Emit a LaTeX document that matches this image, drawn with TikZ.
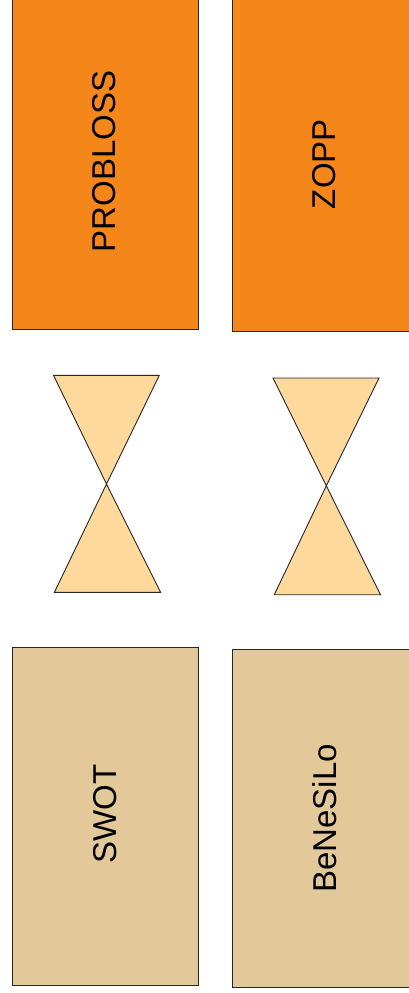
\documentclass[tikz,border=0pt]{standalone}
\usepackage{fontspec}
\setmainfont{Liberation Sans}
\definecolor{boxorange}{RGB}{244,134,26}
\definecolor{triorange}{RGB}{254,217,155}
\definecolor{boxtan}{RGB}{227,201,154}
\tikzset{
  panel/.style={draw=black!85, line width=0.9pt},
  tri/.style={draw=black!85, line width=0.9pt, fill=triorange, line join=miter},
  lbl/.style={rotate=90, anchor=base, inner sep=0pt, font=\fontsize{33}{33}\selectfont, text=black},
}
\begin{document}
\begin{tikzpicture}[x=1pt,y=-1pt]
\useasboundingbox (0,0) rectangle (409,993);
\begin{scope}
\clip (0,0) rectangle (409,993);
% boxes
\path[panel, fill=boxorange] (12.3,-3) rectangle (198.7,329.8);
\path[panel, fill=boxorange] (232.2,-3) rectangle (412,331.8);
\path[panel, fill=boxtan] (12.3,647) rectangle (198.7,985);
\path[panel, fill=boxtan] (232.2,649.5) rectangle (412,987.3);
% hourglasses
\coordinate (al) at (106.5,484);
\coordinate (ar) at (326.3,485.8);
\path[tri] (53.5,375.3) -- (159.3,375.3) -- (al) -- cycle;
\path[tri] (al) -- (160.6,592.3) -- (54.4,592.3) -- cycle;
\path[tri] (273,378) -- (379,378) -- (ar) -- cycle;
\path[tri] (ar) -- (380.5,594.7) -- (274.3,594.7) -- cycle;
\end{scope}
% labels
\node[lbl] (probloss) at (115.3,161.7) {PROBLOSS};
\node[lbl] (zopp) at (335.2,164.2) {ZOPP};
\node[lbl] (swot) at (116.5,814.2) {SWOT};
\node[lbl] (benesilo) at (336.8,818.3) {BeNeSiLo};
\end{tikzpicture}
\end{document}
